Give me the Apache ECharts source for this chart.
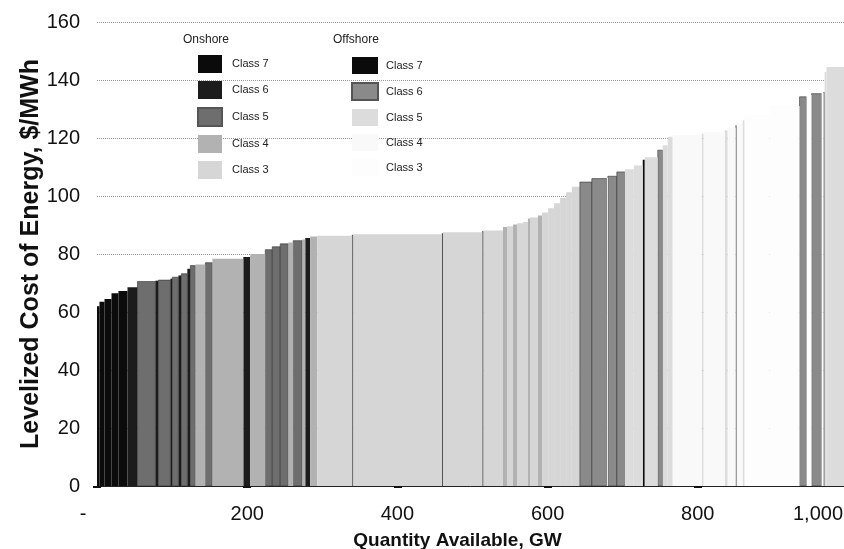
<!DOCTYPE html>
<html>
<head>
<meta charset="utf-8">
<script src="https://cdn.jsdelivr.net/npm/echarts@6/dist/echarts.min.js"></script>
<style>
html,body{margin:0;padding:0;background:#fff;}
#chart{width:844px;height:549px;}
</style>
</head>
<body>
<div id="chart"></div>
<script>
// Segment widths (GW), levelized cost ($/MWh) and resource class for each step of the supply curve
const widths = [3.3, 6.7, 9.3, 9.3, 12.0, 13.3, 23.9, 4.0, 15.9, 2.7,
  8.0, 4.0, 7.9, 4.0, 6.7, 13.3, 9.3, 41.2, 9.3, 20.0,
  9.3, 10.6, 10.7, 6.6, 12.0, 4.0, 6.6, 9.3, 46.6, 1.3,
  118.3, 1.3, 52.5, 1.3, 26.1, 5.4, 7.9, 5.4, 8.0, 6.6,
  2.7, 10.6, 5.4, 8.1, 7.9, 8.0, 8.0, 7.7, 10.7, 15.9,
  20.0, 1.3, 12.0, 10.6, 12.0, 11.9, 2.7, 17.3, 6.6, 6.7,
  6.6, 38.6, 2.6, 28.0, 4.0, 10.6, 1.3, 8.0, 2.7, 33.2,
  39.9, 9.3, 6.7, 13.3, 2.6, 1.4, 2.6, 28.6];
const heights = [62, 63.5, 64.5, 66.5, 67.2, 68.5, 70.5, 70.8, 71, 71.5,
  72, 72.6, 73.2, 74.9, 76, 76.4, 77, 78.4, 79, 80,
  81.5, 82.5, 83.5, 84, 84.6, 85, 85.5, 86, 86.3, 86.5,
  86.8, 87, 87.5, 87.8, 88.1, 89.3, 89.6, 90.2, 90.6, 91,
  92.2, 92.6, 93.3, 94.3, 95.8, 97.5, 99.3, 101.3, 103.2, 104.8,
  106, 106.3, 106.8, 108.3, 109.2, 110.5, 112.5, 113.4, 115.8, 117.5,
  120.4, 121, 121.5, 122, 122.7, 123.5, 124.4, 125, 126, 128,
  131, 134.2, 134.8, 135.3, 135.6, 135.9, 142.8, 144.5];
const classes = ['On7','On7','On7','On7','On7','On6','On5','On6','On5','On6',
  'On5','On6','On5','On6','On5','On4','On5','On4','On6','On4',
  'On5','On5','On5','On4','On5','On4','On6','On4','On3','On5',
  'On3','On5','On3','On5','On3','On4','On3','On4','On3','On3',
  'On4','On3','On4','On3','On3','On3','On3','On3','On3','Off6',
  'Off6','Off3','Off6','Off6','Off5','Off5','Off7','Off5','Off6','Off5',
  'Off5','Off4','Off5','Off4','Off5','Off4','Off7','Off4','Off5','Off3',
  'Off3','Off6','Off3','Off6','Off3','Off7','Off5','Off5'];

const onshoreKeys = ['On7','On6','On5','On4','On3'];
const offshoreKeys = ['Off7','Off6','Off5','Off4','Off3'];
const classLabels = {On7:'Class 7',On6:'Class 6',On5:'Class 5',On4:'Class 4',On3:'Class 3',
  Off7:'Class 7',Off6:'Class 6',Off5:'Class 5',Off4:'Class 4',Off3:'Class 3'};
const xTicks = [0, 200, 400, 600, 800, 1000];

const fills = {On7:'#0b0b0b',On6:'#1c1c1c',On5:'#6e6e6e',On4:'#b2b2b2',On3:'#d6d6d6',
  Off7:'#0b0b0b',Off6:'#8a8a8a',Off5:'#dcdcdc',Off4:'#f9f9f9',Off3:'#fdfdfd'};
const strokes = {On5:'#333',Off6:'#333'};

// build cumulative segments
let acc = 0;
const segs = widths.map((w,i)=>{const s=[acc, acc+w, heights[i], classes[i]]; acc+=w; return s;});

const allKeys = onshoreKeys.concat(offshoreKeys);
const series = allKeys.map(k=>({
  type:'custom', name:k, clip:true,
  itemStyle:{color:fills[k], borderColor: strokes[k] ? '#555' : fills[k], borderWidth: strokes[k]?0.4:0},
  encode:{x:[0,1], y:2},
  data: segs.filter(s=>s[3]===k).map(s=>[s[0],s[1],s[2]]),
  renderItem:function(params, api){
    const a = api.coord([api.value(0), api.value(2)]);
    const b = api.coord([api.value(1), 0]);
    const st = {fill:fills[k]};
    if (strokes[k]) { st.stroke = strokes[k]; st.lineWidth = 0.6; }
    return {type:'rect', shape:{x:a[0], y:a[1], width:b[0]-a[0], height:b[1]-a[1]}, style:st};
  }
}));

const legendCommon = {orient:'vertical', icon:'rect', itemWidth:24, itemHeight:18, itemGap:8,
  selectedMode:false, formatter:n=>classLabels[n]};

const chart = echarts.init(document.getElementById('chart'), null, {renderer:'canvas'});
chart.setOption({
  animation:false,
  backgroundColor:'#fff',
  grid:{left:97, right:-4, top:22, bottom:63, outerBoundsMode:'none', containLabel:false},
  xAxis:{type:'value', min:0, max:1000, interval:200,
    axisLine:{show:true, lineStyle:{color:'#222', width:1}},
    axisTick:{show:true, length:2, lineStyle:{color:'#111', width:8}},
    splitLine:{show:false},
    axisLabel:{margin:18, color:'#111', fontFamily:'Liberation Sans, Arial', fontSize:20,
      formatter:function(v){
        if (v===0) return '{z|-}';
        if (v===1000) return '{r|1,000}';
        return xTicks.includes(v) ? v.toString() : '';
      },
      rich:{z:{padding:[0,28,0,0], fontSize:20, color:'#111', fontFamily:'Liberation Sans, Arial'},
            r:{padding:[0,60,0,0], fontSize:20, color:'#111', fontFamily:'Liberation Sans, Arial'}}},
    name:'Quantity Available, GW', nameLocation:'middle', nameGap:45, nameMoveOverlap:false,
    nameTextStyle:{fontFamily:'Liberation Sans, Arial', fontWeight:'bold', fontSize:19, color:'#111', padding:[0,30,0,0]}
  },
  yAxis:{type:'value', min:0, max:160, interval:20,
    axisLine:{show:false}, axisTick:{show:false},
    splitLine:{show:true, lineStyle:{type:'dotted', color:'#9a9a9a', width:1}},
    axisLabel:{margin:17, color:'#111', fontFamily:'Liberation Sans, Arial', fontSize:20},
    name:'Levelized Cost of Energy, $/MWh', nameLocation:'middle', nameGap:53, nameRotate:90, nameMoveOverlap:false,
    nameTextStyle:{fontFamily:'Liberation Sans, Arial', fontWeight:'bold', fontSize:25, color:'#111'}
  },
  legend:[
    Object.assign({}, legendCommon, {data:onshoreKeys, left:192, top:50,
      textStyle:{fontFamily:'Liberation Sans, Arial', fontSize:11, color:'#222', padding:[0,0,0,5]}}),
    Object.assign({}, legendCommon, {data:offshoreKeys, left:346, top:52, itemWidth:26, itemHeight:17, itemGap:8,
      textStyle:{fontFamily:'Liberation Sans, Arial', fontSize:11, color:'#222', padding:[0,0,0,3]}})
  ],
  graphic:[
    {type:'text', left:183, top:34, style:{text:'Onshore', font:'12px Liberation Sans, Arial', fill:'#222'}},
    {type:'text', left:333, top:34, style:{text:'Offshore', font:'12px Liberation Sans, Arial', fill:'#222'}}
  ],
  series:series
});
</script>
</body>
</html>
